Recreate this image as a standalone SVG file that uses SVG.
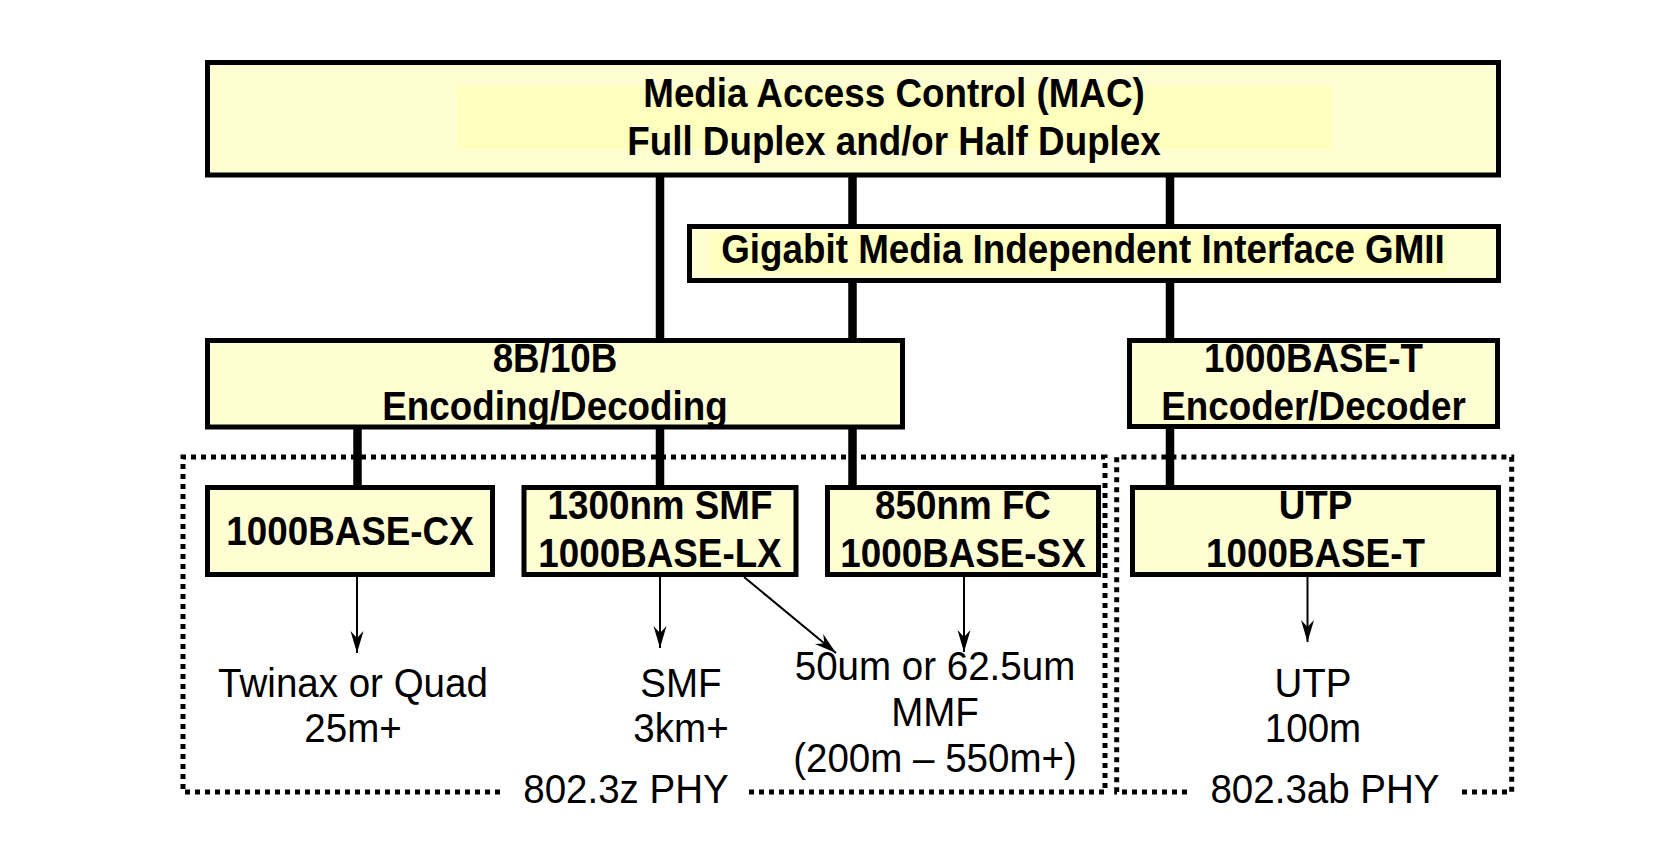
<svg xmlns="http://www.w3.org/2000/svg" width="1658" height="842" viewBox="0 0 1658 842">
<style>
.box{fill:#FFFDD2;stroke:#000;stroke-width:5}
.hl{fill:#FFFFBE}
.bt{font-family:"Liberation Sans",Arial,sans-serif;font-weight:bold;font-size:40px;text-anchor:middle;fill:#000}
.rt{font-family:"Liberation Sans",Arial,sans-serif;font-size:41px;text-anchor:middle;fill:#000}
.thick{stroke:#000;stroke-width:8.5;fill:none}
.thin{stroke:#000;stroke-width:2;fill:none;marker-end:url(#arr)}
.dot{stroke:#000;stroke-width:5;fill:none;stroke-dasharray:5 5}
</style>
<defs>
<marker id="arr" markerUnits="userSpaceOnUse" markerWidth="30" markerHeight="20" refX="0" refY="0" orient="auto" overflow="visible">
<path d="M0,0 L-22,-6.5 L-15,0 L-22,6.5 Z" fill="#000"/>
</marker>
</defs>
<rect width="1658" height="842" fill="#fff"/>
<g id="connectors">
<line class="thick" x1="660" y1="176" x2="660" y2="340"/>
<line class="thick" x1="852.5" y1="176" x2="852.5" y2="340"/>
<line class="thick" x1="1170" y1="176" x2="1170" y2="340"/>
<line class="thick" x1="357.5" y1="428" x2="357.5" y2="487"/>
<line class="thick" x1="660" y1="428" x2="660" y2="487"/>
<line class="thick" x1="852.5" y1="428" x2="852.5" y2="487"/>
<line class="thick" x1="1170" y1="428" x2="1170" y2="487"/>
<line class="thin" x1="357" y1="577" x2="357" y2="653"/>
<line class="thin" x1="660" y1="577" x2="660" y2="648"/>
<line class="thin" x1="744" y1="577" x2="836" y2="653"/>
<line class="thin" x1="964" y1="577" x2="964" y2="652"/>
<line class="thin" x1="1307.5" y1="577" x2="1307.5" y2="642"/>
</g>
<g id="phy-z">
<path class="dot" d="M500,792 H183 V457 H1105 V792 H744"/>
<text class="rt" transform="translate(626 803) scale(0.94 1)">802.3z PHY</text>
</g>
<g id="phy-ab">
<path class="dot" d="M1187,792 H1116.7 V457 H1511.7 V792 H1460"/>
<text class="rt" transform="translate(1325 803) scale(0.94 1)">802.3ab PHY</text>
</g>
<g id="mac">
<rect class="box" x="207.5" y="62.5" width="1291" height="112.5"/>
<rect class="hl" x="457" y="86" width="875" height="63"/>
<text class="bt" transform="translate(894 107) scale(0.92 1)">Media Access Control (MAC)</text>
<text class="bt" transform="translate(894 155) scale(0.92 1)">Full Duplex and/or Half Duplex</text>
</g>
<g id="gmii">
<rect class="box" x="689.5" y="226.5" width="809" height="54"/>
<rect class="hl" x="710" y="233" width="737" height="40"/>
<text class="bt" transform="translate(1083 263) scale(0.92 1)">Gigabit Media Independent Interface GMII</text>
</g>
<g id="enc8b10b">
<rect class="box" x="207.5" y="340.5" width="695" height="86.5"/>
<text class="bt" transform="translate(555 372) scale(0.92 1)">8B/10B</text>
<text class="bt" transform="translate(555 420) scale(0.92 1)">Encoding/Decoding</text>
</g>
<g id="enc1000t">
<rect class="box" x="1129.5" y="340.5" width="368" height="86"/>
<text class="bt" transform="translate(1313.5 372) scale(0.92 1)">1000BASE-T</text>
<text class="bt" transform="translate(1313.5 420) scale(0.92 1)">Encoder/Decoder</text>
</g>
<g id="cx">
<rect class="box" x="207.5" y="487.5" width="285" height="87"/>
<text class="bt" transform="translate(350 545) scale(0.92 1)">1000BASE-CX</text>
</g>
<g id="lx">
<rect class="box" x="524" y="487.5" width="272" height="87"/>
<text class="bt" transform="translate(660 519) scale(0.92 1)">1300nm SMF</text>
<text class="bt" transform="translate(660 567) scale(0.92 1)">1000BASE-LX</text>
</g>
<g id="sx">
<rect class="box" x="827.5" y="487.5" width="271" height="87"/>
<text class="bt" transform="translate(963 519) scale(0.92 1)">850nm FC</text>
<text class="bt" transform="translate(963 567) scale(0.92 1)">1000BASE-SX</text>
</g>
<g id="utp">
<rect class="box" x="1132.5" y="487.5" width="366" height="87"/>
<text class="bt" transform="translate(1315.5 519) scale(0.92 1)">UTP</text>
<text class="bt" transform="translate(1315.5 567) scale(0.92 1)">1000BASE-T</text>
</g>
<g id="media-cx">
<text class="rt" transform="translate(353 697) scale(0.94 1)">Twinax or Quad</text>
<text class="rt" transform="translate(353 742) scale(0.94 1)">25m+</text>
</g>
<g id="media-smf">
<text class="rt" transform="translate(681 697) scale(0.94 1)">SMF</text>
<text class="rt" transform="translate(681 742) scale(0.94 1)">3km+</text>
</g>
<g id="media-mmf">
<text class="rt" transform="translate(935 680) scale(0.94 1)">50um or 62.5um</text>
<text class="rt" transform="translate(935 726) scale(0.94 1)">MMF</text>
<text class="rt" transform="translate(935 772) scale(0.94 1)">(200m – 550m+)</text>
</g>
<g id="media-utp">
<text class="rt" transform="translate(1313 697) scale(0.94 1)">UTP</text>
<text class="rt" transform="translate(1313 742) scale(0.94 1)">100m</text>
</g>
</svg>
